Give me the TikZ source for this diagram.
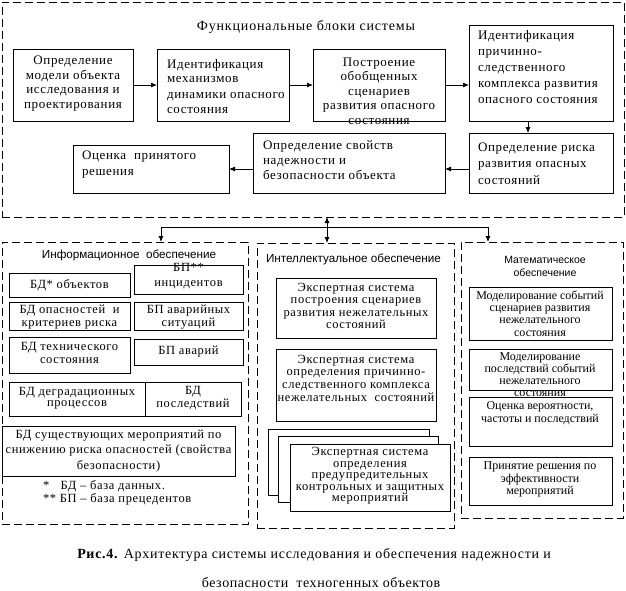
\documentclass[tikz,border=0pt]{standalone}
\usepackage{fontspec}
\setmainfont{Liberation Serif}
\newfontfamily\sansf{Liberation Sans}
\newfontfamily\lsf[LetterSpace=5]{Liberation Serif}
\newfontfamily\lsg[LetterSpace=4]{Liberation Serif}
\newfontfamily\lsh[LetterSpace=6]{Liberation Serif}
\usetikzlibrary{arrows.meta}
\tikzset{
  box/.style={draw, line width=0.8pt, fill=white, inner sep=0pt, outer sep=0pt},
  panel/.style={draw, line width=0.8pt, dash pattern=on 8pt off 4pt, inner sep=0pt, outer sep=0pt},
  txt/.style={inner sep=0pt, outer sep=0pt, font=\lsf\fontsize{13}{14}\selectfont},
  itxt/.style={inner sep=0pt, outer sep=0pt, font=\lsf\fontsize{12.5}{12.5}\selectfont},
  mtxt/.style={inner sep=0pt, outer sep=0pt, font=\fontsize{12}{12.5}\selectfont},
  stxt/.style={inner sep=0pt, outer sep=0pt, font=\sansf\fontsize{11.7}{13}\selectfont},
  arr/.style={-{Latex[length=6pt,width=5pt]}, line width=0.8pt},
  darr/.style={{Latex[length=6pt,width=5pt]}-{Latex[length=6pt,width=5pt]}, line width=0.8pt},
  ln/.style={line width=0.8pt}
}
\newcommand\bx[6][box]{%
  \pgfmathsetmacro\bw{#5-#3}\pgfmathsetmacro\bh{#6-#4}%
  \node[#1,minimum width=\bw pt,minimum height=\bh pt] (#2) at ({(#3+#5)/2},{(#4+#6)/2}) {};}
\begin{document}
\begin{tikzpicture}[x=1pt,y=-1pt]
\useasboundingbox (0,0) rectangle (626,590);
% ---------- top container ----------
\bx[panel]{top}{2}{2}{624}{217}
\node[txt, font=\lsh\fontsize{14}{15}\selectfont] (toptitle) at (306,27) {Функциональные блоки системы};
\bx{b1}{13}{49}{133}{121}
\node[txt, align=center, font=\lsf\fontsize{13}{14.4}\selectfont] (b1t) at (73,83.5) {Определение\\модели объекта\\исследования и\\проектирования};
\bx{b2}{157}{49}{289}{121}
\node[txt, align=left, anchor=west] (b2t) at (167,86.5) {Идентификация\\механизмов\\[2pt]динамики опасного\\[1pt]состояния};
\bx{b3}{313}{49}{445}{121}
\node[txt, align=center, font=\lsf\fontsize{13}{14.5}\selectfont] (b3t) at (379,91) {Построение\\обобщенных\\сценариев\\развития опасного\\состояния};
\bx{b4}{469}{25}{613}{121}
\node[txt, align=left, anchor=west, font=\lsf\fontsize{13}{16}\selectfont] (b4t) at (478,67) {Идентификация\\причинно-\\следственного\\комплекса развития\\опасного состояния};
\bx{b5}{469}{133}{613}{193}
\node[txt, align=left, anchor=west, font=\lsf\fontsize{13}{16.5}\selectfont] (b5t) at (478,163.5) {Определение риска\\развития опасных\\состояний};
\bx{b6}{253}{133}{445}{193}
\node[txt, align=left, anchor=west, font=\lsf\fontsize{13}{15}\selectfont] (b6t) at (263,160) {Определение свойств\\надежности и\\безопасности объекта};
\bx{b7}{73}{145}{229}{193}
\node[txt, align=left, anchor=west, font=\lsf\fontsize{13}{16}\selectfont] (b7t) at (82,165) {Оценка\ \ принятого\\решения};
\draw[arr] (b1) -- (b2);
\draw[arr] (b2) -- (b3);
\draw[arr] (b3.east) -- (b3.east -| b4.west);
\draw[arr] ([xshift=-13pt]b4.south) -- ([xshift=-13pt]b4.south |- b5.north);
\draw[arr] ([yshift=-6pt]b5.west) -- ([yshift=-6pt]b5.west -| b6.east);
\draw[arr] (b6.west |- b7.east) -- (b7.east);
% ---------- lower panels ----------
\bx[panel]{info}{2}{242}{248}{524}
\bx[panel]{intel}{257}{243}{454}{528}
\bx[panel]{math}{461}{242}{623}{518}
\coordinate (jc) at (327,227);
\coordinate (jl) at (161,227);
\coordinate (jr) at (488,227);
\draw[darr] (jc |- top.south) -- (jc |- intel.north);
\draw[ln] (jl) -- (jr);
\draw[arr] (jl) -- (jl |- info.north);
\draw[arr] (jr) -- (jr |- math.north);
% info
\node[stxt] (infot) at (129,255) {Информационное\ \ обеспечение};
\bx{i1}{9}{273}{130}{297}
\node[itxt] (i1t) at (69.5,285) {БД* объектов};
\bx{i2}{134}{265}{243}{294}
\node[itxt, align=center] (i2t) at (188.5,276) {БП**\\[2pt]инцидентов};
\bx{i3}{9}{302}{130}{330}
\node[itxt, align=center] (i3t) at (69.5,317) {БД опасностей\ \ и\\критериев риска};
\bx{i4}{134}{302}{243}{330}
\node[itxt, align=center] (i4t) at (188.5,317) {БП аварийных\\ситуаций};
\bx{i5}{9}{337}{130}{373}
\node[itxt, align=center] (i5t) at (69.5,353) {БД технического\\состояния};
\bx{i6}{134}{339}{243}{365}
\node[itxt] (i6t) at (188.5,352) {БП аварий};
\bx{i7a}{9}{382}{145}{416}
\node[itxt, align=center, font=\lsf\fontsize{12.5}{11}\selectfont] (i7at) at (77,398) {БД деградационных\\процессов};
\bx{i7b}{145}{382}{241}{416}
\node[itxt, align=center, font=\lsf\fontsize{12.5}{11}\selectfont] (i7bt) at (193,398) {БД\\последствий};
\bx{i8}{2}{426}{235}{476}
\node[itxt, align=center, font=\lsf\fontsize{12.5}{15.5}\selectfont] (i8t) at (118.5,451) {БД существующих мероприятий по\\снижению риска опасностей (свойства\\безопасности)};
\node[itxt, align=left, anchor=west, font=\lsf\fontsize{12.5}{10}\selectfont] (foot) at (43,493) {*\ \ \ БД – база данных.\\** БП – база прецедентов};
% intel
\node[stxt, anchor=west] (intelt) at (266,259) {Интеллектуальное обеспечение};
\bx{x1}{276}{278}{436}{338}
\node[itxt, align=center] (x1t) at (356,306) {Экспертная система\\построения сценариев\\развития нежелательных\\состояний};
\bx{x2}{276}{349}{436}{421}
\node[itxt, align=center, font=\lsf\fontsize{12.5}{12.7}\selectfont] (x2t) at (356,378) {Экспертная система\\определения причинно-\\следственного комплекса\\нежелательных\ \ состояний};
\bx{s1}{268}{429}{429}{495}
\bx{s2}{278}{436}{438}{502}
\bx{s3}{290}{444}{450}{511}
\node[itxt, align=center, font=\lsf\fontsize{12.5}{11.5}\selectfont] (s3t) at (370,476) {Экспертная система\\определения\\предупредительных\\контрольных и защитных\\мероприятий};
% math
\node[stxt, align=center, font=\sansf\fontsize{10.5}{13}\selectfont] (matht) at (545,266.5) {Математическое\\обеспечение};
\bx{m1}{469}{287}{612}{340}
\node[mtxt, align=center, font=\fontsize{12}{12.3}\selectfont] (m1t) at (540,313.5) {Моделирование событий\\сценариев развития\\нежелательного\\состояния};
\bx{m2}{469}{349}{612}{390}
\node[mtxt, align=center, font=\fontsize{12}{12}\selectfont] (m2t) at (540,375) {Моделирование\\последствий событий\\нежелательного\\состояния};
\bx{m3}{469}{397}{612}{446}
\node[mtxt, align=center] (m3t) at (540,413) {Оценка вероятности,\\частоты и последствий};
\bx{m4}{469}{457}{612}{505}
\node[mtxt, align=center] (m4t) at (540,479.5) {Принятие решения по\\эффективности\\мероприятий};
% caption
\node[txt, font=\lsf\fontsize{14}{15}\selectfont] (cap1) at (314,555) {\textbf{Рис.4.} Архитектура системы исследования и обеспечения надежности и};
\node[txt, font=\lsg\fontsize{14}{15}\selectfont] (cap2) at (321,583) {безопасности\ \ техногенных объектов};
\end{tikzpicture}
\end{document}
